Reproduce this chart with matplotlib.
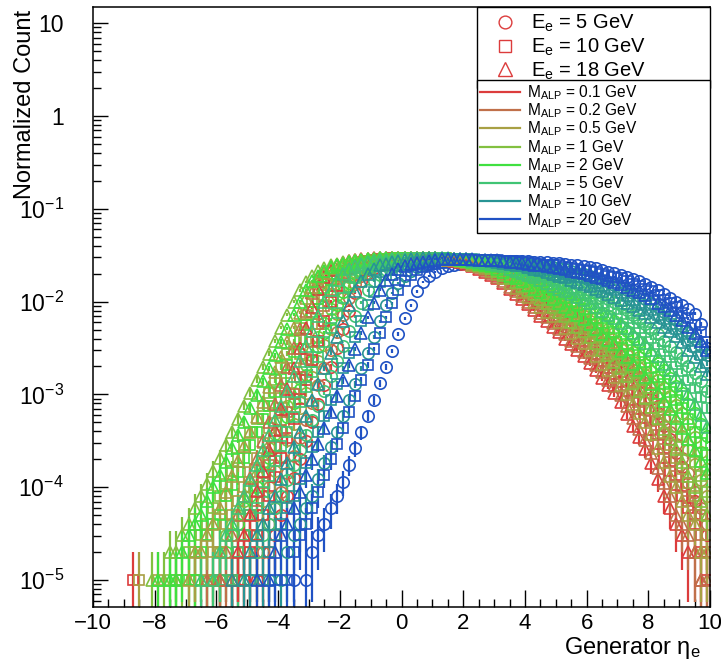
import numpy as np
import matplotlib
matplotlib.use("Agg")
import matplotlib.pyplot as plt
from matplotlib.lines import Line2D
from matplotlib.ticker import FixedLocator, FixedFormatter, LogLocator, NullFormatter, MultipleLocator

plt.rcParams['font.family'] = ['Liberation Sans', 'DejaVu Sans']
plt.rcParams['mathtext.fontset'] = 'custom'
plt.rcParams['mathtext.rm'] = 'Liberation Sans'
plt.rcParams['mathtext.it'] = 'Liberation Sans:italic'
plt.rcParams['mathtext.default'] = 'regular'

# ---------------- data ----------------
N_EVENTS = 1e5                      # entries per histogram (1 entry = 1e-5)
BIN_CENTERS = np.round(np.arange(-9.9, 10.0, 0.2), 1)   # 100 bins of width 0.2

ENERGIES = [5, 10, 18]
MASSES = ["0.1", "0.2", "0.5", "1", "2", "5", "10", "20"]
ENERGY_LABELS = [r"E$_{e}$ = 5 GeV", r"E$_{e}$ = 10 GeV", r"E$_{e}$ = 18 GeV"]
MASS_LABELS = [r"M$_{ALP}$ = %s GeV" % m for m in MASSES]

# log10(normalized count) per bin; each list ends at the last bin (eta = 9.9)
# ---- E_e = 18 GeV (triangles)
tri_m0p1 = [-5.0, None, -5.0, -4.7, -4.52, -4.3, -4.04, -3.82, -3.60, -3.38,
            -3.16, -2.94, -2.72, -2.50, -2.28, -2.06, -1.86, -1.74, -1.66, -1.61,
            -1.58, -1.56, -1.55, -1.54, -1.54, -1.53, -1.53, -1.53, -1.53, -1.53,
            -1.53, -1.53, -1.53, -1.53, -1.53, -1.53, -1.54, -1.55, -1.56, -1.57,
            -1.59, -1.62, -1.65, -1.68, -1.71, -1.75, -1.80, -1.86, -1.92, -1.97,
            -2.03, -2.09, -2.15, -2.21, -2.27, -2.33, -2.40, -2.46, -2.52, -2.59,
            -2.66, -2.74, -2.82, -2.90, -2.98, -3.08, -3.21, -3.34, -3.46, -3.59,
            -3.74, -3.91, -4.1, -4.22, -4.4, -4.52, -4.7, -4.7, -5.0, None]
tri_m0p2 = [None, None, None, -5.0, None, -5.0, -4.7, -4.52, -4.3, -4.1,
            -3.90, -3.70, -3.50, -3.30, -3.10, -2.90, -2.70, -2.50, -2.30, -2.10,
            -1.91, -1.78, -1.69, -1.64, -1.60, -1.58, -1.56, -1.55, -1.54, -1.54,
            -1.53, -1.53, -1.53, -1.53, -1.53, -1.53, -1.53, -1.53, -1.53, -1.53,
            -1.53, -1.54, -1.55, -1.55, -1.56, -1.57, -1.60, -1.63, -1.66, -1.69,
            -1.73, -1.78, -1.84, -1.89, -1.94, -2.00, -2.06, -2.12, -2.17, -2.23,
            -2.29, -2.35, -2.42, -2.48, -2.54, -2.61, -2.68, -2.76, -2.84, -2.91,
            -3.01, -3.13, -3.25, -3.37, -3.49, -3.63, -3.79, -3.95, -4.1, -4.3,
            -4.4, -4.52, -4.7, -5.0, -5.0]
tri_m0p5 = [None, None, None, -5.0, None, -5.0, -4.7, -4.7, -4.52, -4.4,
            -4.22, -4.05, -3.88, -3.72, -3.56, -3.40, -3.24, -3.08, -2.92, -2.76,
            -2.60, -2.44, -2.28, -2.12, -1.96, -1.84, -1.75, -1.69, -1.64, -1.61,
            -1.59, -1.57, -1.56, -1.55, -1.54, -1.54, -1.53, -1.53, -1.53, -1.53,
            -1.53, -1.53, -1.53, -1.53, -1.53, -1.53, -1.54, -1.55, -1.55, -1.56,
            -1.57, -1.60, -1.62, -1.64, -1.67, -1.70, -1.75, -1.80, -1.85, -1.90,
            -1.95, -2.00, -2.06, -2.11, -2.16, -2.22, -2.28, -2.34, -2.39, -2.45,
            -2.52, -2.59, -2.67, -2.74, -2.81, -2.90, -3.00, -3.10, -3.20, -3.30,
            -3.43, -3.58, -3.73, -3.88, -4.0, -4.15, -4.3, -4.4, -4.7, -4.7]
tri_m1 = [None, None, None, None, -5.0, None, -5.0, -4.7, -4.7, -4.52,
          -4.4, -4.22, -4.1, -3.96, -3.82, -3.68, -3.54, -3.40, -3.26, -3.12,
          -2.98, -2.84, -2.70, -2.56, -2.42, -2.28, -2.14, -2.00, -1.88, -1.79,
          -1.72, -1.67, -1.64, -1.61, -1.59, -1.57, -1.56, -1.55, -1.55, -1.54,
          -1.54, -1.53, -1.53, -1.53, -1.53, -1.53, -1.53, -1.53, -1.53, -1.53,
          -1.53, -1.54, -1.54, -1.54, -1.55, -1.56, -1.58, -1.60, -1.62, -1.64,
          -1.67, -1.71, -1.75, -1.79, -1.83, -1.87, -1.92, -1.97, -2.01, -2.06,
          -2.11, -2.16, -2.22, -2.27, -2.32, -2.38, -2.45, -2.52, -2.58, -2.65,
          -2.72, -2.80, -2.88, -2.96, -3.04, -3.14, -3.25, -3.37, -3.48, -3.59,
          -3.73, -3.88, -4.0, -4.15, -4.3]
tri_m2 = [-5.0, None, -5.0, -5.0, -4.7, -4.52, -4.4, -4.3, -4.15, -4.0,
          -3.87, -3.73, -3.58, -3.44, -3.30, -3.15, -3.01, -2.86, -2.72, -2.58,
          -2.43, -2.29, -2.14, -2.00, -1.88, -1.78, -1.72, -1.67, -1.63, -1.61,
          -1.59, -1.57, -1.56, -1.55, -1.54, -1.54, -1.53, -1.53, -1.53, -1.53,
          -1.53, -1.53, -1.53, -1.53, -1.53, -1.53, -1.54, -1.54, -1.54, -1.55,
          -1.56, -1.57, -1.59, -1.61, -1.62, -1.65, -1.68, -1.72, -1.75, -1.78,
          -1.82, -1.86, -1.90, -1.93, -1.97, -2.01, -2.06, -2.10, -2.14, -2.19,
          -2.24, -2.29, -2.35, -2.41, -2.46, -2.53, -2.60, -2.67, -2.74, -2.81,
          -2.89, -2.98, -3.07, -3.16, -3.25, -3.36, -3.48, -3.60, -3.72, -3.85]
tri_m5 = [None, None, -5.0, None, -5.0, -4.7, -4.52, -4.4, -4.22, -4.1,
          -3.92, -3.76, -3.60, -3.44, -3.28, -3.12, -2.96, -2.80, -2.64, -2.48,
          -2.32, -2.16, -2.00, -1.87, -1.77, -1.70, -1.65, -1.62, -1.59, -1.57,
          -1.56, -1.55, -1.55, -1.54, -1.54, -1.53, -1.53, -1.53, -1.53, -1.53,
          -1.53, -1.53, -1.54, -1.54, -1.54, -1.54, -1.56, -1.57, -1.58, -1.59,
          -1.60, -1.62, -1.65, -1.67, -1.69, -1.71, -1.74, -1.77, -1.80, -1.83,
          -1.86, -1.89, -1.92, -1.95, -1.98, -2.02, -2.06, -2.10, -2.14, -2.18,
          -2.23, -2.28, -2.34, -2.40, -2.45, -2.52, -2.59, -2.67, -2.74, -2.81,
          -2.90, -3.00, -3.10, -3.22, -3.35]
tri_m10 = [None, None, -5.0, None, -5.0, -4.7, -4.52, -4.4, -4.22, -4.1,
           -3.91, -3.74, -3.57, -3.40, -3.23, -3.06, -2.89, -2.72, -2.55, -2.38,
           -2.21, -2.04, -1.89, -1.78, -1.70, -1.65, -1.61, -1.59, -1.57, -1.56,
           -1.55, -1.54, -1.54, -1.53, -1.53, -1.53, -1.53, -1.53, -1.54, -1.54,
           -1.54, -1.55, -1.55, -1.55, -1.56, -1.57, -1.58, -1.59, -1.60, -1.61,
           -1.63, -1.65, -1.66, -1.68, -1.70, -1.72, -1.74, -1.77, -1.79, -1.81,
           -1.83, -1.86, -1.89, -1.92, -1.95, -1.98, -2.01, -2.05, -2.09, -2.12,
           -2.17, -2.22, -2.27, -2.32, -2.37, -2.44, -2.52, -2.60, -2.69, -2.78]
tri_m20 = [None, -5.0, None, -5.0, -4.7, -4.52, -4.4, -4.22, -4.05, -3.87,
           -3.70, -3.53, -3.36, -3.19, -3.02, -2.85, -2.68, -2.51, -2.34, -2.17,
           -2.01, -1.87, -1.77, -1.70, -1.65, -1.62, -1.59, -1.58, -1.57, -1.56,
           -1.55, -1.54, -1.54, -1.54, -1.54, -1.54, -1.54, -1.55, -1.55, -1.55,
           -1.55, -1.56, -1.57, -1.57, -1.58, -1.59, -1.60, -1.61, -1.62, -1.63,
           -1.64, -1.65, -1.67, -1.68, -1.69, -1.71, -1.73, -1.75, -1.77, -1.79,
           -1.81, -1.84, -1.87, -1.90, -1.93, -1.96, -2.01, -2.05, -2.09, -2.14,
           -2.20, -2.27, -2.34, -2.42, -2.52]

# ---- E_e = 10 GeV (squares)
sq_m0p1 = [None, -5.0, None, None, None, None, None, None, None, None,
           None, None, None, None, None, None, None, -5.0, None, -5.0,
           -4.7, -4.52, -4.3, -4.1, -3.89, -3.68, -3.47, -3.26, -3.05, -2.84,
           -2.63, -2.42, -2.21, -2.00, -1.83, -1.72, -1.65, -1.61, -1.58, -1.56,
           -1.55, -1.54, -1.54, -1.53, -1.53, -1.53, -1.53, -1.53, -1.53, -1.53,
           -1.53, -1.54, -1.54, -1.54, -1.55, -1.56, -1.58, -1.60, -1.63, -1.65,
           -1.68, -1.73, -1.77, -1.81, -1.86, -1.91, -1.96, -2.02, -2.07, -2.12,
           -2.18, -2.24, -2.30, -2.36, -2.42, -2.49, -2.56, -2.64, -2.71, -2.78,
           -2.87, -2.96, -3.06, -3.16, -3.25, -3.38, -3.53, -3.68, -3.83, -3.98,
           -4.1, -4.22, -4.4, -4.7, -5.0]
sq_m0p2 = [None, None, None, None, -5.0, None, -5.0, -5.0, -4.7, -4.52,
           -4.3, -4.15, -3.95, -3.76, -3.57, -3.38, -3.19, -3.00, -2.81, -2.62,
           -2.43, -2.24, -2.05, -1.88, -1.76, -1.69, -1.63, -1.60, -1.58, -1.56,
           -1.55, -1.54, -1.54, -1.53, -1.53, -1.53, -1.53, -1.53, -1.53, -1.53,
           -1.53, -1.54, -1.54, -1.54, -1.55, -1.56, -1.58, -1.60, -1.62, -1.64,
           -1.67, -1.71, -1.76, -1.80, -1.84, -1.89, -1.94, -1.99, -2.04, -2.09,
           -2.15, -2.20, -2.26, -2.32, -2.37, -2.44, -2.51, -2.58, -2.65, -2.72,
           -2.81, -2.90, -2.99, -3.08, -3.17, -3.29, -3.44, -3.59, -3.73, -3.88,
           -4.0, -4.15, -4.3, -4.52, -4.7]
sq_m0p5 = [None, None, -5.0, None, None, -5.0, None, None, None, None,
           None, -5.0, None, -5.0, -4.7, -4.7, -4.4, -4.3, -4.15, -4.0,
           -3.84, -3.68, -3.52, -3.36, -3.20, -3.04, -2.88, -2.72, -2.56, -2.40,
           -2.24, -2.08, -1.93, -1.81, -1.73, -1.67, -1.63, -1.60, -1.58, -1.57,
           -1.56, -1.55, -1.54, -1.54, -1.53, -1.53, -1.53, -1.53, -1.53, -1.53,
           -1.53, -1.53, -1.54, -1.54, -1.54, -1.55, -1.57, -1.58, -1.60, -1.62,
           -1.65, -1.69, -1.73, -1.76, -1.80, -1.84, -1.89, -1.94, -1.99, -2.04,
           -2.09, -2.14, -2.19, -2.24, -2.29, -2.35, -2.42, -2.49, -2.56, -2.63,
           -2.70, -2.79, -2.87, -2.95, -3.04, -3.15, -3.28, -3.42, -3.55, -3.68,
           -3.8, -3.95, -4.1, -4.3, -4.52]
sq_m1 = [None, None, -5.0, None, -5.0, -4.7, -4.7, -4.52, -4.4, -4.22,
         -4.1, -3.96, -3.82, -3.68, -3.54, -3.40, -3.26, -3.12, -2.98, -2.84,
         -2.70, -2.56, -2.42, -2.28, -2.14, -2.00, -1.88, -1.79, -1.72, -1.67,
         -1.64, -1.61, -1.59, -1.57, -1.56, -1.55, -1.55, -1.54, -1.54, -1.53,
         -1.53, -1.53, -1.53, -1.53, -1.53, -1.53, -1.53, -1.54, -1.54, -1.54,
         -1.55, -1.56, -1.58, -1.59, -1.60, -1.63, -1.66, -1.69, -1.72, -1.75,
         -1.79, -1.83, -1.88, -1.92, -1.96, -2.00, -2.05, -2.10, -2.15, -2.20,
         -2.25, -2.31, -2.37, -2.43, -2.49, -2.56, -2.63, -2.70, -2.77, -2.84,
         -2.93, -3.04, -3.14, -3.24, -3.35, -3.46, -3.60, -3.73, -3.88, -4.05]
sq_m2 = [None, None, None, -5.0, None, -5.0, -5.0, -4.7, -4.52, -4.4,
         -4.3, -4.1, -3.98, -3.84, -3.69, -3.55, -3.40, -3.26, -3.12, -2.97,
         -2.83, -2.68, -2.54, -2.40, -2.25, -2.11, -1.97, -1.85, -1.77, -1.70,
         -1.66, -1.62, -1.60, -1.58, -1.57, -1.56, -1.55, -1.54, -1.54, -1.53,
         -1.53, -1.53, -1.53, -1.53, -1.53, -1.53, -1.53, -1.54, -1.54, -1.54,
         -1.55, -1.56, -1.57, -1.58, -1.59, -1.61, -1.64, -1.67, -1.69, -1.72,
         -1.75, -1.78, -1.82, -1.85, -1.88, -1.92, -1.96, -2.00, -2.04, -2.08,
         -2.13, -2.18, -2.23, -2.28, -2.33, -2.39, -2.46, -2.52, -2.58, -2.65,
         -2.72, -2.81, -2.89, -2.97, -3.06, -3.15, -3.27, -3.40, -3.52, -3.65]
sq_m5 = [-5.0, None, -5.0, -4.7, -4.52, -4.3, -4.22, -4.05, -3.88, -3.72,
         -3.56, -3.40, -3.24, -3.08, -2.92, -2.76, -2.60, -2.44, -2.28, -2.12,
         -1.96, -1.84, -1.75, -1.69, -1.64, -1.61, -1.59, -1.57, -1.56, -1.55,
         -1.54, -1.54, -1.53, -1.53, -1.53, -1.53, -1.53, -1.54, -1.54, -1.54,
         -1.54, -1.55, -1.56, -1.56, -1.57, -1.58, -1.60, -1.62, -1.63, -1.65,
         -1.67, -1.70, -1.72, -1.74, -1.77, -1.79, -1.82, -1.85, -1.88, -1.91,
         -1.94, -1.97, -2.01, -2.05, -2.08, -2.13, -2.18, -2.23, -2.28, -2.33,
         -2.39, -2.46, -2.53, -2.60, -2.67, -2.75, -2.84, -2.93, -3.03, -3.15]
sq_m10 = [-5.0, None, -5.0, -4.7, -4.52, -4.4, -4.22, -4.1, -3.91, -3.74,
          -3.57, -3.40, -3.23, -3.06, -2.89, -2.72, -2.55, -2.38, -2.21, -2.04,
          -1.90, -1.79, -1.71, -1.66, -1.62, -1.60, -1.58, -1.57, -1.56, -1.55,
          -1.55, -1.54, -1.54, -1.54, -1.54, -1.54, -1.54, -1.55, -1.55, -1.55,
          -1.56, -1.57, -1.58, -1.59, -1.60, -1.61, -1.62, -1.64, -1.65, -1.66,
          -1.68, -1.70, -1.72, -1.73, -1.75, -1.77, -1.80, -1.83, -1.85, -1.88,
          -1.91, -1.94, -1.98, -2.01, -2.04, -2.09, -2.14, -2.19, -2.24, -2.29,
          -2.35, -2.42, -2.49, -2.57, -2.66]
sq_m20 = [None, None, None, None, -5.0, None, -5.0, -4.7, -4.52, -4.4,
          -4.22, -4.05, -3.87, -3.70, -3.53, -3.36, -3.19, -3.02, -2.85, -2.68,
          -2.51, -2.34, -2.17, -2.02, -1.88, -1.78, -1.71, -1.66, -1.63, -1.60,
          -1.59, -1.58, -1.57, -1.56, -1.56, -1.55, -1.55, -1.55, -1.55, -1.55,
          -1.55, -1.56, -1.56, -1.56, -1.57, -1.57, -1.58, -1.59, -1.60, -1.61,
          -1.61, -1.63, -1.64, -1.65, -1.66, -1.67, -1.68, -1.70, -1.72, -1.73,
          -1.75, -1.78, -1.81, -1.83, -1.86, -1.89, -1.93, -1.98, -2.02, -2.06,
          -2.12, -2.18, -2.25, -2.33, -2.43]

# ---- E_e = 5 GeV (circles)
circ_m0p1 = [None, None, None, None, -5.0, None, -5.0, -5.0, -4.7, -4.52,
             -4.3, -4.1, -3.90, -3.70, -3.50, -3.30, -3.10, -2.90, -2.70, -2.50,
             -2.30, -2.10, -1.91, -1.78, -1.69, -1.64, -1.60, -1.58, -1.56, -1.55,
             -1.54, -1.54, -1.53, -1.53, -1.53, -1.53, -1.53, -1.53, -1.54, -1.54,
             -1.55, -1.56, -1.58, -1.59, -1.60, -1.63, -1.66, -1.70, -1.73, -1.76,
             -1.80, -1.85, -1.90, -1.95, -2.00, -2.05, -2.10, -2.16, -2.22, -2.27,
             -2.33, -2.39, -2.45, -2.51, -2.57, -2.64, -2.71, -2.79, -2.87, -2.94,
             -3.05, -3.20, -3.34, -3.48, -3.63, -3.78, -3.95, -4.15, -4.3, -4.52]
circ_m0p2 = [None, None, None, -5.0, None, -5.0, -4.7, -4.7, -4.4, -4.22,
             -4.05, -3.85, -3.66, -3.47, -3.28, -3.09, -2.90, -2.71, -2.52, -2.33,
             -2.14, -1.96, -1.81, -1.72, -1.66, -1.61, -1.59, -1.57, -1.56, -1.55,
             -1.54, -1.54, -1.53, -1.53, -1.53, -1.53, -1.53, -1.53, -1.54, -1.54,
             -1.55, -1.56, -1.57, -1.58, -1.59, -1.62, -1.65, -1.68, -1.71, -1.74,
             -1.78, -1.83, -1.88, -1.92, -1.97, -2.02, -2.07, -2.12, -2.17, -2.22,
             -2.28, -2.34, -2.40, -2.46, -2.52, -2.59, -2.66, -2.74, -2.81, -2.88,
             -2.99, -3.12, -3.26, -3.40, -3.53, -3.68, -3.85, -4.05, -4.22, -4.4]
circ_m0p5 = [-5.0, None, -5.0, -5.0, -4.7, -4.52, -4.3, -4.15, -4.0, -3.83,
             -3.66, -3.49, -3.32, -3.15, -2.98, -2.81, -2.64, -2.47, -2.30, -2.13,
             -1.96, -1.83, -1.74, -1.68, -1.63, -1.60, -1.58, -1.56, -1.55, -1.55,
             -1.54, -1.54, -1.53, -1.53, -1.53, -1.53, -1.53, -1.53, -1.54, -1.54,
             -1.55, -1.56, -1.57, -1.57, -1.58, -1.60, -1.63, -1.66, -1.69, -1.72,
             -1.75, -1.79, -1.84, -1.88, -1.92, -1.96, -2.01, -2.06, -2.11, -2.16,
             -2.21, -2.27, -2.33, -2.38, -2.44, -2.51, -2.58, -2.65, -2.72, -2.79,
             -2.88, -2.99, -3.11, -3.23, -3.34, -3.45, -3.60, -3.75, -3.92, -4.1]
circ_m1 = [None, -5.0, None, -5.0, -5.0, -4.7, -4.52, -4.4, -4.3, -4.15,
           -4.0, -3.88, -3.73, -3.58, -3.43, -3.28, -3.13, -2.98, -2.83, -2.68,
           -2.53, -2.38, -2.23, -2.08, -1.93, -1.82, -1.74, -1.68, -1.64, -1.61,
           -1.59, -1.57, -1.56, -1.55, -1.55, -1.54, -1.54, -1.53, -1.53, -1.53,
           -1.53, -1.53, -1.53, -1.54, -1.54, -1.54, -1.55, -1.56, -1.57, -1.58,
           -1.59, -1.62, -1.64, -1.66, -1.69, -1.72, -1.75, -1.79, -1.83, -1.86,
           -1.90, -1.95, -1.99, -2.03, -2.08, -2.13, -2.18, -2.24, -2.29, -2.34,
           -2.40, -2.47, -2.54, -2.60, -2.67, -2.75, -2.84, -2.93, -3.02, -3.11,
           -3.20, -3.32, -3.46, -3.62, -3.80]
circ_m2 = [None, None, None, -5.0, None, -5.0, -4.7, -4.52, -4.4, -4.22,
           -4.1, -4.0, -3.84, -3.69, -3.54, -3.39, -3.24, -3.09, -2.94, -2.79,
           -2.64, -2.49, -2.34, -2.19, -2.04, -1.90, -1.80, -1.73, -1.67, -1.63,
           -1.61, -1.58, -1.57, -1.56, -1.55, -1.54, -1.54, -1.53, -1.53, -1.53,
           -1.53, -1.53, -1.53, -1.54, -1.54, -1.54, -1.55, -1.55, -1.56, -1.57,
           -1.58, -1.60, -1.62, -1.64, -1.66, -1.69, -1.72, -1.75, -1.78, -1.81,
           -1.84, -1.87, -1.91, -1.95, -1.98, -2.02, -2.07, -2.12, -2.16, -2.21,
           -2.26, -2.32, -2.38, -2.44, -2.50, -2.57, -2.66, -2.74, -2.82, -2.91,
           -2.99, -3.10, -3.20, -3.32, -3.45]
circ_m5 = [None, None, None, -5.0, None, -5.0, -4.7, -4.52, -4.4, -4.22,
           -4.1, -3.92, -3.76, -3.60, -3.44, -3.28, -3.12, -2.96, -2.80, -2.64,
           -2.48, -2.32, -2.16, -2.01, -1.88, -1.78, -1.71, -1.66, -1.63, -1.60,
           -1.58, -1.57, -1.56, -1.55, -1.55, -1.54, -1.54, -1.54, -1.54, -1.54,
           -1.54, -1.55, -1.55, -1.55, -1.56, -1.57, -1.58, -1.59, -1.60, -1.61,
           -1.63, -1.65, -1.67, -1.69, -1.71, -1.73, -1.76, -1.79, -1.81, -1.84,
           -1.87, -1.90, -1.94, -1.97, -2.00, -2.04, -2.09, -2.14, -2.19, -2.24,
           -2.29, -2.35, -2.42, -2.48, -2.54, -2.61, -2.69, -2.77, -2.86, -2.96]
circ_m10 = [None, None, None, -5.0, None, -5.0, -4.7, -4.52, -4.4, -4.22,
            -4.1, -3.91, -3.74, -3.57, -3.40, -3.23, -3.06, -2.89, -2.72, -2.55,
            -2.38, -2.21, -2.04, -1.91, -1.80, -1.72, -1.67, -1.63, -1.61, -1.59,
            -1.58, -1.57, -1.56, -1.56, -1.55, -1.55, -1.55, -1.55, -1.55, -1.55,
            -1.55, -1.56, -1.57, -1.57, -1.58, -1.59, -1.60, -1.61, -1.62, -1.63,
            -1.64, -1.65, -1.67, -1.69, -1.70, -1.72, -1.75, -1.77, -1.79, -1.82,
            -1.85, -1.88, -1.91, -1.94, -1.97, -2.01, -2.06, -2.11, -2.15, -2.20,
            -2.26, -2.33, -2.40, -2.48, -2.57]
circ_m20 = [None, None, -5.0, None, -5.0, -4.7, -4.52, -4.4, -4.22, -4.1,
            -3.94, -3.76, -3.58, -3.41, -3.23, -3.06, -2.88, -2.70, -2.53, -2.35,
            -2.18, -2.04, -1.89, -1.79, -1.72, -1.68, -1.64, -1.62, -1.60, -1.59,
            -1.58, -1.57, -1.57, -1.56, -1.56, -1.56, -1.56, -1.56, -1.56, -1.56,
            -1.56, -1.57, -1.57, -1.57, -1.58, -1.58, -1.59, -1.60, -1.61, -1.62,
            -1.63, -1.64, -1.66, -1.68, -1.69, -1.71, -1.74, -1.76, -1.78, -1.81,
            -1.84, -1.88, -1.92, -1.96, -2.00, -2.04, -2.08, -2.13, -2.24, -2.50]

SERIES = {
    5: [circ_m0p1, circ_m0p2, circ_m0p5, circ_m1, circ_m2, circ_m5, circ_m10, circ_m20],
    10: [sq_m0p1, sq_m0p2, sq_m0p5, sq_m1, sq_m2, sq_m5, sq_m10, sq_m20],
    18: [tri_m0p1, tri_m0p2, tri_m0p5, tri_m1, tri_m2, tri_m5, tri_m10, tri_m20],
}

# ---------------- style ----------------
COLORS = ["#dc3c3c", "#c0704a", "#a8a044", "#82c040", "#40e040",
          "#40c474", "#289494", "#2052c4"]
MARKERS = {5: "o", 10: "s", 18: "^"}
MSIZE = {5: 8.2, 10: 7.8, 18: 8.8}

fig = plt.figure(figsize=(7.21, 6.66), dpi=100)
ax = fig.add_axes([0.129, 0.0886, 0.8558, 0.9009])
ax.set_yscale("log")

for E in ENERGIES:
    for i, vals in enumerate(SERIES[E]):
        x_all = BIN_CENTERS[len(BIN_CENTERS) - len(vals):]
        keep = [v is not None for v in vals]
        x = x_all[keep]
        y = 10.0 ** np.array([v for v in vals if v is not None])
        err = np.sqrt(y * N_EVENTS) / N_EVENTS
        lo = np.where(y - err <= 0, y - 1e-9, err)
        ax.errorbar(x, y, yerr=[lo, err], fmt=MARKERS[E], ms=MSIZE[E],
                    mfc="none", mec=COLORS[i], mew=1.2, ecolor=COLORS[i],
                    elinewidth=1.6, capsize=0, linestyle="none", zorder=2)

ax.set_xlim(-10, 10)
ax.set_ylim(5.12e-6, 14.96)

# axes / ticks
ax.xaxis.set_major_locator(MultipleLocator(2))
ax.xaxis.set_minor_locator(MultipleLocator(0.5))
dec = [1e-5, 1e-4, 1e-3, 1e-2, 1e-1, 1, 10]
ax.yaxis.set_major_locator(FixedLocator(dec))
ax.yaxis.set_major_formatter(FixedFormatter([r"10$^{-5}$", r"10$^{-4}$", r"10$^{-3}$",
                                             r"10$^{-2}$", r"10$^{-1}$", "1", "10"]))
ax.yaxis.set_minor_locator(LogLocator(base=10, subs=np.arange(2, 10)))
ax.yaxis.set_minor_formatter(NullFormatter())
ax.tick_params(axis="x", which="major", direction="in", length=12, width=1.0,
               labelsize=16, pad=4, top=False)
ax.tick_params(axis="x", which="minor", direction="in", length=6, width=1.0, top=False)
ax.tick_params(axis="y", which="major", direction="in", length=11, width=1.0,
               labelsize=16.5, pad=21, right=False)
ax.tick_params(axis="y", which="minor", direction="in", length=5.5, width=1.0, right=False)
for s in ax.spines.values():
    s.set_linewidth(1.1)

ax.set_ylabel("Normalized Count", fontsize=17, loc="top")
ax.yaxis.set_label_coords(-0.092, 0.995)
ax.set_xlabel(r"Generator $\eta_{e}$", fontsize=17, loc="right")
ax.xaxis.set_label_coords(0.985, -0.046)

# legends
h1 = [Line2D([], [], ls="none", marker=MARKERS[E], mfc="none", mec=COLORS[0],
             ms=MSIZE[E] + 1, mew=1.0) for E in ENERGIES]
leg1 = ax.legend(h1, ENERGY_LABELS, loc="upper left", bbox_to_anchor=(0.622, 1.0, 0.378, 0.0),
                 mode="expand", fontsize=14.5, frameon=True, fancybox=False,
                 edgecolor="black", framealpha=1, borderaxespad=0, handlelength=2.2,
                 handletextpad=0.2, borderpad=0.3, labelspacing=0.12)
leg1.get_frame().set_linewidth(1.0)
ax.add_artist(leg1)
h2 = [Line2D([], [], color=c, lw=1.6) for c in COLORS]
leg2 = ax.legend(h2, MASS_LABELS, loc="upper left", bbox_to_anchor=(0.622, 0.878, 0.378, 0.0),
                 mode="expand", fontsize=11.2, frameon=True, fancybox=False,
                 edgecolor="black", framealpha=1, borderaxespad=0, handlelength=2.6,
                 handletextpad=0.45, borderpad=0.2, labelspacing=-0.03)
leg2.get_frame().set_linewidth(1.0)

fig.savefig("out.png", dpi=100)
